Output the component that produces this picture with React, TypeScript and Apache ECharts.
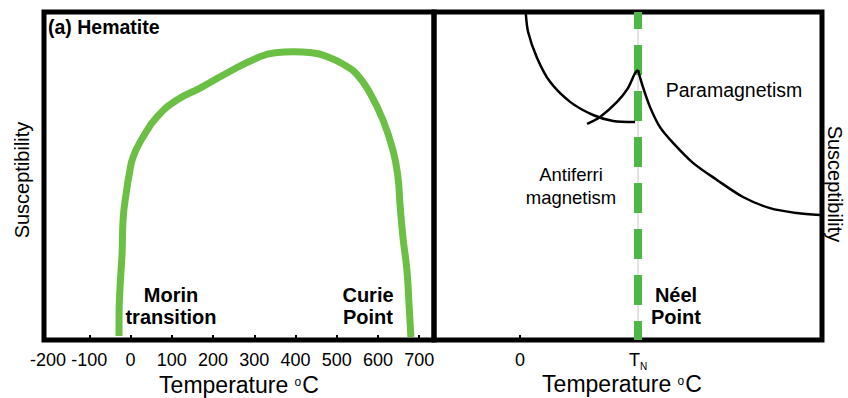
import React, { useEffect, useRef } from "react";
import * as echarts from "echarts";

// (a) Hematite: temperature (°C) vs relative susceptibility
const hematiteTemp = [-28, -28, -25.5, -20.6, -18.2, -8.5, -3.6, 6.1, 30.3, 64.2, 112.7, 168.5, 233.9, 306.7, 351, 395, 440, 485, 522, 549.1, 580.6, 612.1, 636.4, 648.5, 653.3, 660.6, 670.3, 675.2, 680.0];
const hematiteSusc = [1.2, 7.0, 16.2, 26.5, 36.6, 46.6, 50.3, 55.8, 61.9, 68.0, 73.2, 76.8, 81.4, 86.0, 87.6, 87.9, 87.6, 86.0, 83.6, 81.0, 75.3, 67.1, 57.9, 49.7, 41.8, 31.4, 21.3, 11.3, 0.9];

// Antiferromagnet: arbitrary temperature units, T_N = 100
const afTempA = [4.7, 6.8, 14.4, 25.4, 42.4, 61.9, 78.8, 97.5];
const afSuscA = [100.3, 93.9, 86.0, 78.7, 72.6, 68.6, 66.8, 66.5];
const afTempB = [56.8, 67.8, 82.2, 91.5, 97.5, 100];
const afSuscB = [65.9, 68.0, 72.6, 76.8, 81.4, 82.3];
const paraTemp = [100, 104.2, 110.2, 118.6, 129.7, 146.6, 166.9, 189.0, 211.9, 234.7, 254.2];
const paraSusc = [82.3, 77.1, 71.0, 64.9, 60.1, 54.0, 48.8, 43.6, 40.2, 38.7, 38.1];
const neelTemp = 100;

const leftTickLabels = [-200, -100, 0, 100, 200, 300, 400, 500, 600, 700];
const leftTicks = [-100, 0, 100, 200, 300, 400, 500, 600, 700];
const rightTickLabels = [0, neelTemp];
const rightTicks = [0];

const zip = (xs: number[], ys: number[]) => xs.map((x, i) => [x, ys[i]]);

const FONT = "Liberation Sans";

export default function App() {
  const ref = useRef<HTMLDivElement>(null);
  useEffect(() => {
    document.body.style.margin = "0";
    if (!ref.current) return;
    const chart = echarts.init(ref.current, undefined, { renderer: "svg" });
    const tickStyle = { show: true, inside: true, length: 5, lineStyle: { color: "#000", width: 2 } };
    const blackLine = { color: "#000", width: 2.5 };
    const titleStyle = (text: string) => ({
      text,
      fontSize: 23,
      fontFamily: FONT,
      fill: "#000",
      align: "center",
      verticalAlign: "middle",
      rich: { sup: { fontSize: 12, verticalAlign: "top", fontFamily: FONT, fill: "#000", padding: [2, 1, 0, 0] } },
    });
    chart.setOption({
      animation: false,
      textStyle: { fontFamily: FONT },
      grid: [
        { left: 44, top: 12, width: 390, height: 328, show: true, borderColor: "#000", borderWidth: 5, backgroundColor: "transparent", outerBoundsMode: "none", containLabel: false },
        { left: 434, top: 12, width: 388, height: 328, show: true, borderColor: "#000", borderWidth: 5, backgroundColor: "transparent", outerBoundsMode: "none", containLabel: false },
      ],
      xAxis: [
        {
          gridIndex: 0, type: "value", min: -210, max: 736,
          axisLine: { show: false }, splitLine: { show: false },
          axisTick: { ...tickStyle, customValues: leftTicks },
          axisLabel: { customValues: leftTickLabels, fontSize: 18, color: "#000", margin: 11, fontFamily: FONT },
        },
        {
          gridIndex: 1, type: "value", min: -73, max: 256,
          axisLine: { show: false }, splitLine: { show: false },
          axisTick: { ...tickStyle, customValues: rightTicks },
          axisLabel: {
            customValues: rightTickLabels, fontSize: 18, color: "#000", margin: 11, fontFamily: FONT,
            formatter: (v: number) => (v === neelTemp ? "{t|T}{n|N}" : String(v)),
            rich: {
              t: { fontSize: 18, fontFamily: FONT, color: "#000", verticalAlign: "top", lineHeight: 20 },
              n: { fontSize: 10, fontFamily: FONT, color: "#000", verticalAlign: "bottom", lineHeight: 10, padding: [11, 0, 0, 0] },
            },
          },
        },
      ],
      yAxis: [
        { gridIndex: 0, type: "value", min: 0, max: 100, show: false },
        { gridIndex: 1, type: "value", min: 0, max: 100, show: false },
      ],
      series: [
        {
          name: "Hematite", type: "line", xAxisIndex: 0, yAxisIndex: 0,
          data: zip(hematiteTemp, hematiteSusc), smooth: 0.5, showSymbol: false,
          lineStyle: { color: "#6cbf45", width: 7, cap: "butt" },
        },
        {
          name: "Néel guide", type: "line", xAxisIndex: 1, yAxisIndex: 1,
          data: [[neelTemp, 100], [neelTemp, 0]], showSymbol: false,
          lineStyle: { color: "#e3e3e3", width: 2 },
        },
        {
          name: "Néel point", type: "line", xAxisIndex: 1, yAxisIndex: 1,
          data: [[neelTemp, 100], [neelTemp, 0]], showSymbol: false,
          lineStyle: { color: "#4db848", width: 8, type: [30, 16], dashOffset: 13, cap: "butt" },
        },
        {
          name: "AF a", type: "line", xAxisIndex: 1, yAxisIndex: 1,
          data: zip(afTempA, afSuscA), smooth: 0.3, showSymbol: false, lineStyle: blackLine,
        },
        {
          name: "AF b", type: "line", xAxisIndex: 1, yAxisIndex: 1,
          data: zip(afTempB, afSuscB), smooth: 0.3, showSymbol: false, lineStyle: blackLine,
        },
        {
          name: "Para", type: "line", xAxisIndex: 1, yAxisIndex: 1,
          data: zip(paraTemp, paraSusc), smooth: 0.3, showSymbol: false, lineStyle: blackLine,
        },
      ],
      graphic: [
        { type: "text", x: 48, y: 27, style: { text: "(a) Hematite", fontSize: 19.5, fontWeight: "bold", fontFamily: FONT, fill: "#000", align: "left", verticalAlign: "middle" } },
        { type: "text", x: 171, y: 306, style: { text: "Morin\ntransition", fontSize: 20, fontWeight: "bold", fontFamily: FONT, fill: "#000", align: "center", verticalAlign: "middle", lineHeight: 22 } },
        { type: "text", x: 368, y: 306, style: { text: "Curie\nPoint", fontSize: 20, fontWeight: "bold", fontFamily: FONT, fill: "#000", align: "center", verticalAlign: "middle", lineHeight: 22 } },
        { type: "text", x: 676, y: 306, style: { text: "Néel\nPoint", fontSize: 20, fontWeight: "bold", fontFamily: FONT, fill: "#000", align: "center", verticalAlign: "middle", lineHeight: 22 } },
        { type: "text", x: 734, y: 90, style: { text: "Paramagnetism", fontSize: 19.5, fontFamily: FONT, fill: "#000", align: "center", verticalAlign: "middle" } },
        { type: "text", x: 571, y: 186, style: { text: "Antiferri\nmagnetism", fontSize: 18.5, fontFamily: FONT, fill: "#000", align: "center", verticalAlign: "middle", lineHeight: 22.5 } },
        { type: "text", x: 22, y: 180, rotation: Math.PI / 2, style: { text: "Susceptibility", fontSize: 20, fontFamily: FONT, fill: "#000", align: "center", verticalAlign: "middle" } },
        { type: "text", x: 835, y: 184, rotation: -Math.PI / 2, style: { text: "Susceptibility", fontSize: 20, fontFamily: FONT, fill: "#000", align: "center", verticalAlign: "middle" } },
        { type: "text", x: 239, y: 385, style: titleStyle("Temperature {sup|o}C") },
        { type: "text", x: 622, y: 384, style: titleStyle("Temperature {sup|o}C") },
      ],
    });
    return () => chart.dispose();
  }, []);
  return <div ref={ref} style={{ position: "absolute", left: 0, top: 0, width: 848, height: 398 }} />;
}
